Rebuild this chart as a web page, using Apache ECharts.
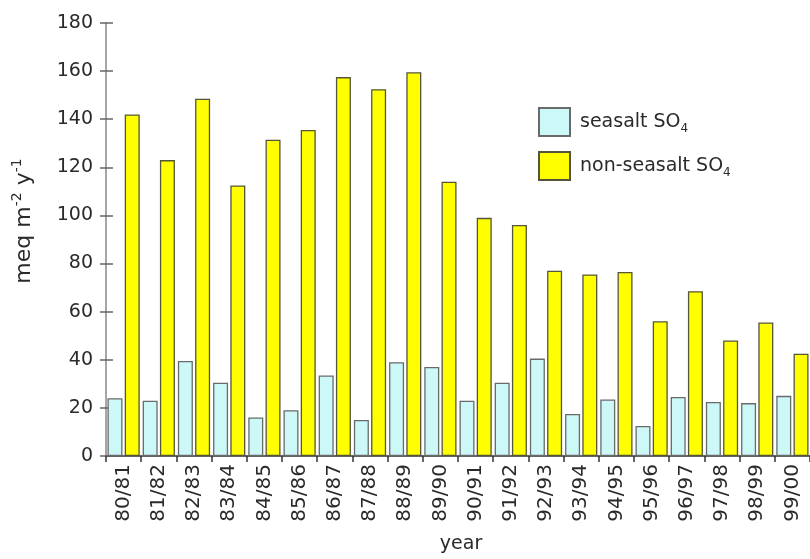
<!DOCTYPE html>
<html>
<head>
<meta charset="utf-8">
<script src="https://cdn.jsdelivr.net/npm/echarts@6/dist/echarts.min.js"></script>
<style>
html,body{margin:0;padding:0;background:#fff;}
#chart{width:810px;height:559px;}
</style>
</head>
<body>
<div id="chart"></div>
<script>
const categories = ['80/81','81/82','82/83','83/84','84/85','85/86','86/87','87/88','88/89','89/90',
  '90/91','91/92','92/93','93/94','94/95','95/96','96/97','97/98','98/99','99/00'];
const seasalt = [24, 23, 39.5, 30.5, 16, 19, 33.5, 15, 39, 37, 23, 30.5, 40.5, 17.5, 23.5, 12.5, 24.5, 22.5, 22, 25];
const nonSeasalt = [142, 123, 148.5, 112.5, 131.5, 135.5, 157.5, 152.5, 159.5, 114, 99, 96, 77, 75.5, 76.5, 56, 68.5, 48, 55.5, 42.5];
const yTicks = {min: 0, max: 180, interval: 20};

const FONT = 'DejaVu Sans';
const TXT = '#2a2a2a';

const chart = echarts.init(document.getElementById('chart'));
chart.setOption({
  animation: false,
  backgroundColor: '#fff',
  textStyle: {fontFamily: FONT},
  grid: {left: 106, top: 23, width: 708, height: 437, containLabel: false},
  legend: {
    orient: 'vertical', left: 533, top: 102,
    itemWidth: 31, itemHeight: 28, itemGap: 14,
    icon: 'rect',
    data: ['seasalt', 'nonseasalt'],
    formatter: function (n) { return n === 'seasalt' ? '{a|seasalt SO}{s|4}' : '{a|non-seasalt SO}{s|4}'; },
    textStyle: {
      color: TXT, fontFamily: FONT, padding: [0, 0, 0, 5],
      rich: {
        a: {fontSize: 19, lineHeight: 26, color: TXT, fontFamily: FONT},
        s: {fontSize: 12, lineHeight: 12, verticalAlign: 'bottom', color: TXT, fontFamily: FONT}
      }
    }
  },
  xAxis: {
    type: 'category', data: categories, boundaryGap: true,
    axisLine: {lineStyle: {color: '#333', width: 1.5}},
    axisTick: {show: true, length: 6, inside: false, lineStyle: {color: '#333', width: 1.5}},
    axisLabel: {rotate: 90, margin: 8, fontSize: 20, color: TXT, fontFamily: FONT, interval: 0},
    name: 'year', nameLocation: 'middle', nameGap: 79,
    nameTextStyle: {fontSize: 19, color: TXT, fontFamily: FONT, padding: [0, 0, 0, 6]}
  },
  yAxis: [{
    type: 'value', min: yTicks.min, max: yTicks.max, interval: yTicks.interval, position: 'left',
    axisLine: {show: true, lineStyle: {color: '#888', width: 1.5}},
    axisTick: {show: true, length: 6, inside: false, lineStyle: {color: '#666', width: 1.5}},
    axisLabel: {margin: 13, fontSize: 19, color: TXT, fontFamily: FONT},
    splitLine: {show: false}
  }, {
    type: 'value', min: yTicks.min, max: yTicks.max, interval: yTicks.interval, position: 'left',
    axisLine: {show: false},
    axisTick: {show: true, length: 7, inside: true, lineStyle: {color: '#666', width: 1.5}},
    axisLabel: {show: false},
    splitLine: {show: false}
  }],
  graphic: [{
    type: 'text', x: 24, y: 221, rotation: Math.PI / 2,
    style: {
      text: '{a|meq m}{p|-2}{a| y}{p|-1}',
      align: 'center', verticalAlign: 'middle',
      fill: TXT,
      rich: {
        a: {fontSize: 22, lineHeight: 28, fill: TXT, fontFamily: FONT},
        p: {fontSize: 14, lineHeight: 13, verticalAlign: 'top', fill: TXT, fontFamily: FONT}
      }
    }
  }],
  series: [{
    name: 'seasalt', type: 'bar', data: seasalt, yAxisIndex: 0,
    barWidth: 15, barGap: '15%',
    itemStyle: {color: '#ccf8f8', borderColor: '#6a6a6a', borderWidth: 1.3}
  }, {
    name: 'nonseasalt', type: 'bar', data: nonSeasalt, yAxisIndex: 0,
    barWidth: 15, barGap: '15%',
    itemStyle: {color: '#ffff00', borderColor: '#55553a', borderWidth: 1.3}
  }]
});
</script>
</body>
</html>
